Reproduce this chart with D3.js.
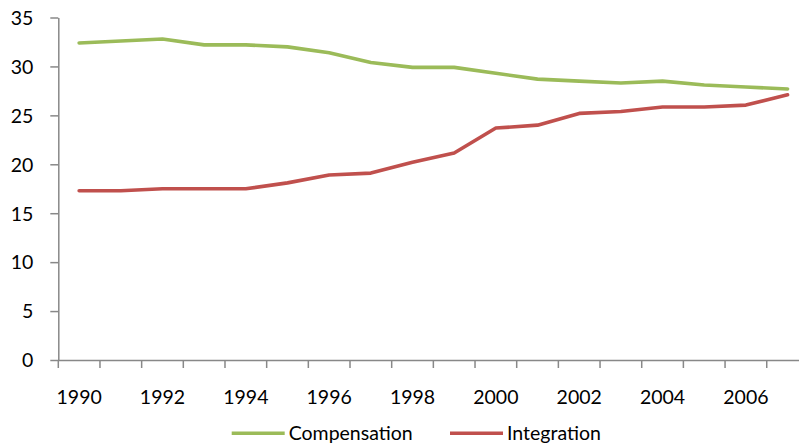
<!DOCTYPE html>
<html>
<head>
<meta charset="utf-8">
<script src="https://cdn.jsdelivr.net/npm/d3@7"></script>
<style>
  html, body { margin: 0; padding: 0; background: #fff; }
  svg { display: block; }
  text { font-family: Lato, "Open Sans", sans-serif; fill: #000; }
</style>
</head>
<body>
<svg id="chart" width="799" height="446"></svg>
<script>
const years = [1990,1991,1992,1993,1994,1995,1996,1997,1998,1999,2000,2001,2002,2003,2004,2005,2006,2007];
const compensation = [32.4,32.6,32.8,32.2,32.2,32.0,31.4,30.4,29.9,29.9,29.3,28.7,28.5,28.3,28.5,28.1,27.9,27.7];
const integration  = [17.3,17.3,17.5,17.5,17.5,18.1,18.9,19.1,20.2,21.15,23.7,24.0,25.2,25.4,25.85,25.85,26.05,27.1];
const yTicks = [0,5,10,15,20,25,30,35];
const xLabels = [1990,1992,1994,1996,1998,2000,2002,2004,2006];
const seriesNames = ["Compensation","Integration"];
const seriesColors = ["#9BBB59","#C0504D"];

const svg = d3.select("#chart");
const x = d3.scaleBand().domain(years).range([58.3, 808.4]).padding(0);
const y = d3.scaleLinear().domain([0,35]).range([360, 17.5]);
const axisColor = "#888888";
const fontSize = "19.5px";

// Y axis
const gy = svg.append("g").attr("transform", "translate(58.3,0)")
  .call(d3.axisLeft(y).tickValues(yTicks).tickSize(8).tickSizeOuter(0).tickPadding(17));
gy.selectAll("path, line").attr("stroke", axisColor).attr("stroke-width", 1.5);
gy.selectAll("text").style("font-size", fontSize).attr("font-family", null).attr("dy", "0.35em");
gy.attr("font-family", null).attr("font-size", null);

// X axis: line, ticks at category boundaries, labels at even years
const gx = svg.append("g").attr("transform", "translate(0,360)")
  .call(d3.axisBottom(x).tickValues(xLabels).tickSize(0).tickSizeOuter(0).tickPadding(0));
gx.attr("font-family", null).attr("font-size", null);
gx.selectAll("path").attr("stroke", axisColor).attr("stroke-width", 1.5);
gx.selectAll("text").style("font-size", fontSize).attr("y", 43.5).attr("dy", null);
const boundaries = years.map(d => x(d)).concat([x.range()[1]]);
gx.selectAll("line.bt").data(boundaries).enter().append("line")
  .attr("class", "bt")
  .attr("x1", d => d).attr("x2", d => d).attr("y1", 0).attr("y2", 8)
  .attr("stroke", axisColor).attr("stroke-width", 1.5);

// Lines
const line = d3.line()
  .x((d, i) => x(years[i]) + x.bandwidth() / 2)
  .y(d => y(d));
[compensation, integration].forEach((vals, k) => {
  svg.append("path").datum(vals)
    .attr("d", line)
    .attr("fill", "none")
    .attr("stroke", seriesColors[k])
    .attr("stroke-width", 3.6)
    .attr("stroke-linejoin", "round")
    .attr("stroke-linecap", "round");
});

// Legend
const legendX = [231.7, 450];
seriesNames.forEach((name, k) => {
  const g = svg.append("g").attr("transform", `translate(${legendX[k]},433.3)`);
  g.append("line").attr("x1", 0).attr("x2", 53).attr("y1", 0).attr("y2", 0)
    .attr("stroke", seriesColors[k]).attr("stroke-width", 3.6);
  g.append("text").attr("x", 57).attr("y", 6.3).style("font-size", fontSize).text(name);
});
</script>
</body>
</html>
